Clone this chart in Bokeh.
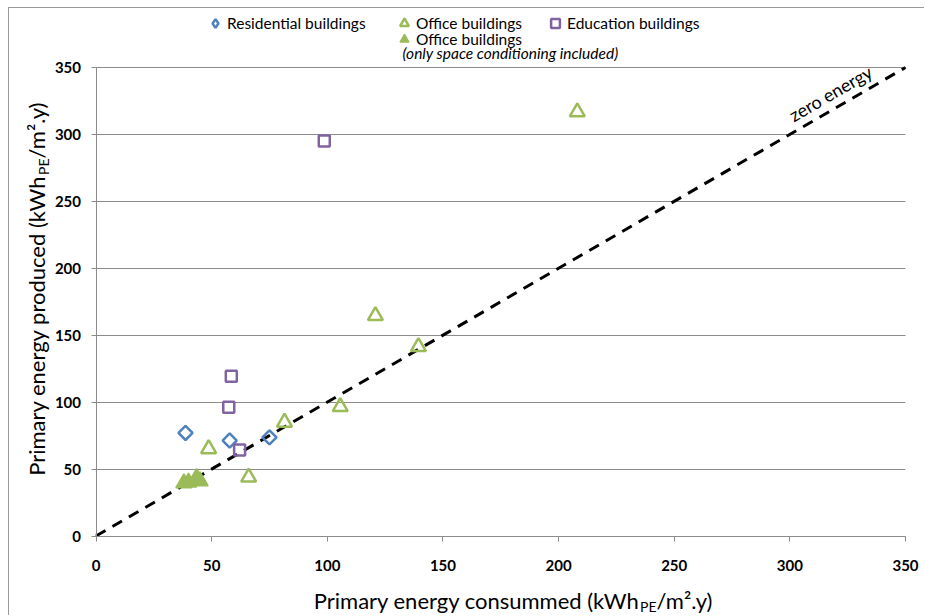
from bokeh.plotting import figure
from bokeh.models import Range1d, SingleIntervalTicker, Label, Legend, LegendItem, Grid
from bokeh.embed import file_html
from bokeh.resources import INLINE
import math

# ---- data ----
res_x = [38.7, 57.8, 75.0]
res_y = [77.0, 71.3, 73.7]
off_x = [48.7, 66.0, 81.5, 105.6, 120.8, 139.4, 208.1]
off_y = [65.1, 43.9, 84.9, 96.6, 164.6, 141.4, 316.8]
edu_x = [58.5, 57.4, 62.1, 98.7]
edu_y = [119.3, 96.1, 64.3, 295.1]
offsc_x = [38.0, 40.0, 43.5, 45.0]
offsc_y = [39.5, 40.0, 43.5, 41.0]
zero_x = [0, 350]
zero_y = [0, 350]
axis_min, axis_max, tick_step = 0, 350, 50
grid_y = [50, 100, 150, 200, 250, 300, 350]

FONT = "Lato"
BLUE = "#4F81BD"
GREEN = "#9BBB59"
PURPLE = "#8064A2"
GREY = "#8c8c8c"

# canvas geometry (pixels); the plot frame covers the whole canvas and the axes
# are drawn at fixed locations inside it, so that legends/labels are not clipped
W, H = 916, 608
PL, PR, PT, PB = 86.5, 896.0, 59.0, 527.5   # plot area in canvas pixels
sx = (PR - PL) / (axis_max - axis_min)
sy = (PB - PT) / (axis_max - axis_min)
x_range = Range1d(axis_min - PL / sx, axis_max + (W - PR) / sx)
y_range = Range1d(axis_min - (H - PB) / sy, axis_max + PT / sy)

p = figure(width=W, height=H, output_backend="svg", toolbar_location=None,
           x_range=x_range, y_range=y_range,
           min_border_left=0, min_border_right=0, min_border_top=0, min_border_bottom=0,
           styles={"margin-left": "8px", "margin-top": "7px",
                   "border-left": "1px solid #999", "border-top": "1px solid #999"})
p.outline_line_color = None
p.background_fill_color = "white"
p.border_fill_color = "white"
# range far outside the canvas: used only by the legend swatch renderer
p.extra_y_ranges = {"legend_only": Range1d(1e6, 2e6)}

for ax in (p.xaxis[0], p.yaxis[0]):
    ax.fixed_location = 0
    ax.bounds = (axis_min, axis_max)
    ax.ticker = SingleIntervalTicker(interval=tick_step)
    ax.axis_line_color = GREY
    ax.major_tick_line_color = GREY
    ax.major_tick_out = 5
    ax.major_tick_in = 0
    ax.minor_tick_line_color = None
    ax.major_label_text_font = FONT
    ax.major_label_text_font_style = "bold"
    ax.major_label_text_font_size = "15px"
    ax.major_label_text_color = "black"
p.xaxis.major_label_standoff = 19
p.yaxis.major_label_standoff = 10

p.xgrid.grid_line_color = None
if "cross_bounds" in Grid.properties():
    p.ygrid.bounds = (axis_min, axis_max)
    p.ygrid.cross_bounds = (axis_min, axis_max)
    p.ygrid.grid_line_color = GREY
    p.ygrid.grid_line_width = 1
else:
    p.ygrid.grid_line_color = None
    p.segment(x0=[axis_min] * len(grid_y), y0=grid_y, x1=[axis_max] * len(grid_y), y1=grid_y,
              line_color=GREY, line_width=1)

# zero energy line
p.line(zero_x, zero_y, line_color="black", line_width=3, line_dash="11 8")

r_off_sc = p.scatter(offsc_x, offsc_y, marker="triangle", size=16,
                     fill_color=GREEN, line_color=GREEN, line_width=1.5)
r_res = p.scatter(res_x, res_y, marker="square", angle=math.pi / 4, size=10,
                  fill_color=None, line_color=BLUE, line_width=2.5)
r_off = p.scatter(off_x, off_y, marker="triangle", size=15,
                  fill_color=None, line_color=GREEN, line_width=2.5)
r_edu = p.scatter(edu_x, edu_y, marker="square", size=11,
                  fill_color=None, line_color=PURPLE, line_width=2.5)
# legend swatch for the diamonds (legend glyphs ignore marker angle)
r_res_key = p.scatter(res_x, res_y, marker="diamond", size=10, y_range_name="legend_only",
                      fill_color=None, line_color=BLUE, line_width=2.5)

p.add_layout(Label(x=300.3, y=313.4, text="zero energy", angle=30, angle_units="deg",
                   text_font=FONT, text_font_size="18px", text_color="black",
                   text_baseline="alphabetic"))

LEG = dict(orientation="horizontal", padding=0, margin=0, border_line_color=None,
           background_fill_alpha=0, glyph_width=22, glyph_height=22, label_height=22,
           label_standoff=1, label_text_font=FONT, label_text_font_size="15.5px",
           label_text_color="black")


def add_legend(text, renderer, loc):
    p.add_layout(Legend(items=[LegendItem(label=text, renderers=[renderer])],
                        location=loc, **LEG))


add_legend("Residential buildings", r_res_key, (195, 582))
add_legend("Office buildings", r_off, (384, 582))
add_legend("Education buildings", r_edu, (535, 582))
add_legend("Office buildings", r_off_sc, (384, 566))

p.add_layout(Label(x=501, y=564, x_units="screen", y_units="screen",
                   text="(only space conditioning included)", text_font=FONT,
                   text_font_size="15.5px", text_font_style="italic", text_color="black",
                   text_align="center", text_baseline="middle"))

# axis titles composed of pieces (subscript)
LBL = "22px"
SUB = "14px"
for txt, x, y, size, align in [("Primary energy consummed  (kWh", 636, 16, LBL, "right"),
                               ("PE", 630.5, 10, SUB, "left"),
                               ("/m\u00b2.y)", 647, 16, LBL, "left")]:
    p.add_layout(Label(x=x, y=y, x_units="screen", y_units="screen", text=txt,
                       text_font=FONT, text_font_size=size, text_color="black",
                       text_align=align, text_baseline="middle"))

for txt, x, y, size, align in [("Primary energy produced (kWh", 27, 441, LBL, "right"),
                               ("PE", 34, 441.5, SUB, "left"),
                               ("/m\u00b2.y)", 27, 458, LBL, "left")]:
    p.add_layout(Label(x=x, y=y, x_units="screen", y_units="screen", text=txt,
                       angle=math.pi / 2, text_font=FONT, text_font_size=size,
                       text_color="black", text_align=align, text_baseline="middle"))

open("out.html", "w").write(file_html(p, INLINE))
